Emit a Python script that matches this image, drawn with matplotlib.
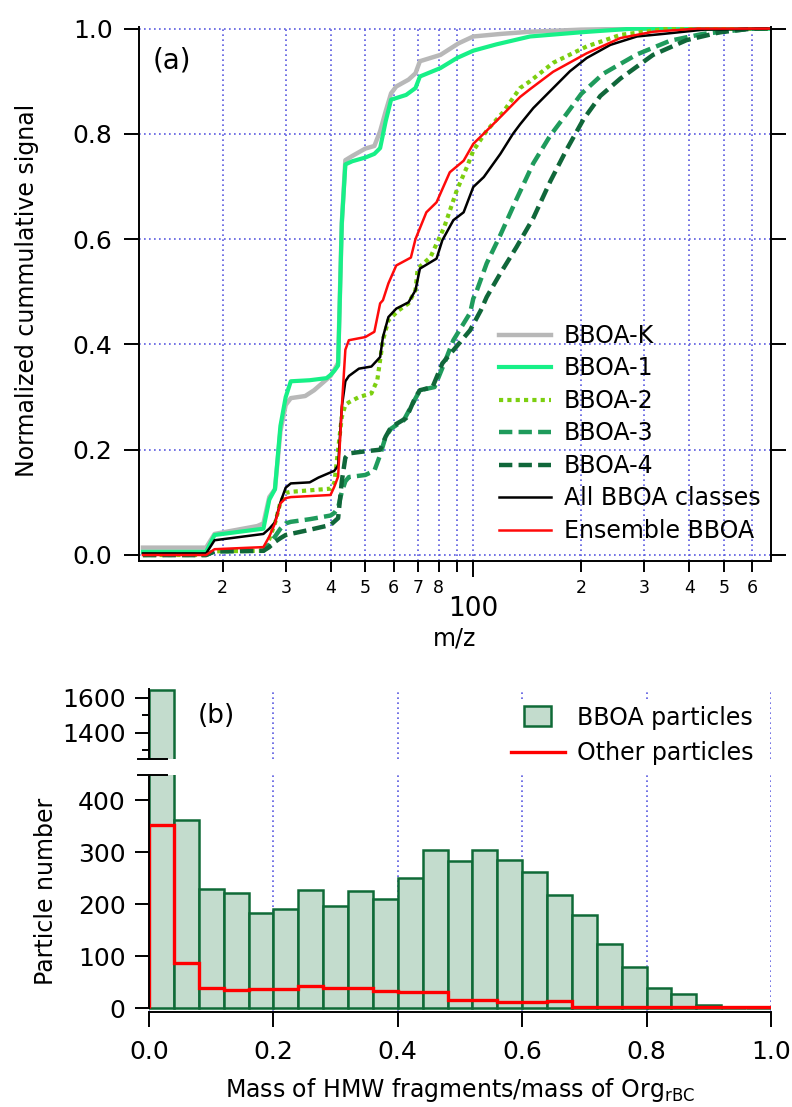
import numpy as np
import matplotlib.pyplot as plt
from matplotlib.ticker import FixedLocator, FixedFormatter, NullLocator, FormatStrFormatter
from matplotlib.patches import Patch, Rectangle
from matplotlib.lines import Line2D
from matplotlib.legend_handler import HandlerPatch

# ---- panel (a): normalized cumulative signal vs m/z ----
mz_k = [12, 18, 19, 25, 26, 27, 28, 29, 30, 31, 34, 36, 40, 41, 42, 43, 44, 46, 50, 53,
        55, 57, 59, 61, 66, 69, 71, 81, 91, 100, 120, 144, 200, 300, 680]
bboa_k = [0.014, 0.014, 0.040, 0.055, 0.060, 0.110, 0.125, 0.235, 0.285, 0.298, 0.302, 0.313,
          0.340, 0.352, 0.365, 0.630, 0.750, 0.758, 0.772, 0.777, 0.805, 0.843, 0.877, 0.890,
          0.903, 0.915, 0.938, 0.950, 0.972, 0.985, 0.990, 0.994, 0.998, 1.0, 1.0]

mz_1 = [12, 18, 19, 26, 27, 28, 29, 30, 31, 35, 39, 40, 41, 42, 43, 44, 46, 50, 53, 55,
        57, 59, 61, 65, 69, 71, 81, 90, 100, 116, 144, 200, 280, 680]
bboa_1 = [0.006, 0.006, 0.038, 0.050, 0.105, 0.125, 0.245, 0.300, 0.330, 0.332, 0.336, 0.342,
          0.350, 0.360, 0.630, 0.742, 0.748, 0.755, 0.762, 0.773, 0.824, 0.865, 0.868, 0.874,
          0.887, 0.909, 0.925, 0.944, 0.958, 0.970, 0.985, 0.993, 1.0, 1.0]

mz_2 = [12, 18, 19, 26, 27, 28, 29, 30, 31, 40, 41, 42, 43, 44, 45, 48, 52, 54, 56, 58,
        62, 66, 69, 70, 76, 79, 83, 90, 96, 100, 109, 121, 135, 144, 167, 207, 257, 350, 680]
bboa_2 = [0.0, 0.0, 0.007, 0.008, 0.030, 0.060, 0.100, 0.118, 0.120, 0.126, 0.137, 0.200,
          0.262, 0.285, 0.290, 0.300, 0.307, 0.332, 0.408, 0.446, 0.465, 0.478, 0.503, 0.544,
          0.566, 0.591, 0.623, 0.693, 0.737, 0.768, 0.806, 0.841, 0.887, 0.900, 0.935, 0.966,
          0.988, 1.0, 1.0]

mz_3 = [12, 18, 19, 26, 27, 28, 29, 30, 31, 35, 40, 41, 42, 43, 44, 45, 50, 53, 55, 57,
        59, 64, 71, 78, 83, 88, 98, 100, 102, 109, 119, 132, 147, 164, 182, 200, 230, 286,
        354, 437, 600, 680]
bboa_3 = [0.0, 0.0, 0.007, 0.008, 0.020, 0.035, 0.050, 0.060, 0.063, 0.068, 0.075, 0.080,
          0.090, 0.120, 0.140, 0.148, 0.152, 0.160, 0.190, 0.225, 0.240, 0.256, 0.313, 0.319,
          0.364, 0.408, 0.460, 0.487, 0.500, 0.554, 0.608, 0.676, 0.744, 0.797, 0.838, 0.876,
          0.914, 0.951, 0.977, 0.990, 1.0, 1.0]

mz_4 = [12, 18, 19, 26, 27, 28, 29, 30, 34, 40, 42, 43, 44, 45, 50, 55, 57, 59, 65, 69,
        71, 77, 82, 88, 98, 105, 109, 119, 132, 147, 164, 182, 203, 226, 257, 317, 393, 487,
        600, 680]
bboa_4 = [0.0, 0.0, 0.007, 0.008, 0.015, 0.025, 0.032, 0.038, 0.046, 0.057, 0.070, 0.140,
          0.185, 0.193, 0.197, 0.200, 0.225, 0.243, 0.260, 0.300, 0.313, 0.319, 0.364, 0.389,
          0.427, 0.465, 0.490, 0.535, 0.585, 0.640, 0.710, 0.770, 0.828, 0.872, 0.905, 0.950,
          0.978, 0.993, 1.0, 1.0]

mz_all = [12, 18, 19, 26, 27, 28, 29, 30, 31, 35, 37, 41, 42, 43, 44, 45, 48, 52, 55, 56,
          58, 61, 66, 69, 71, 79, 82, 88, 94, 100, 107, 119, 129, 135, 147, 167, 186, 207,
          241, 286, 340, 440, 680]
all_bboa = [0.003, 0.003, 0.028, 0.040, 0.050, 0.062, 0.100, 0.128, 0.136, 0.138, 0.147,
            0.160, 0.170, 0.281, 0.330, 0.340, 0.354, 0.358, 0.376, 0.414, 0.452, 0.468,
            0.480, 0.503, 0.544, 0.563, 0.598, 0.636, 0.651, 0.699, 0.718, 0.762, 0.800,
            0.818, 0.849, 0.887, 0.919, 0.944, 0.969, 0.985, 0.990, 0.998, 1.0]

mz_ens = [12, 18, 19, 26, 27, 28, 29, 30, 31, 40, 41, 42, 43, 44, 45, 50, 53, 55, 56, 58,
          61, 67, 69, 74, 79, 86, 94, 100, 109, 121, 135, 144, 167, 207, 257, 317, 420, 680]
ensemble = [0.0, 0.0, 0.011, 0.015, 0.035, 0.060, 0.098, 0.108, 0.110, 0.114, 0.130, 0.149,
            0.280, 0.390, 0.408, 0.414, 0.424, 0.478, 0.484, 0.516, 0.550, 0.565, 0.600,
            0.651, 0.670, 0.727, 0.749, 0.781, 0.806, 0.837, 0.870, 0.885, 0.918, 0.953,
            0.982, 0.994, 1.0, 1.0]

minor_mz = [20, 30, 40, 50, 60, 70, 80, 90, 200, 300, 400, 500, 600]
minor_labels = ['2', '3', '4', '5', '6', '7', '8', '', '2', '3', '4', '5', '6']

# ---- panel (b): histogram of HMW fraction ----
bin_edges = np.linspace(0.0, 1.0, 26)
bboa_particles = [1648, 363, 229, 222, 184, 190, 227, 197, 225, 210, 250, 304, 284, 304,
                  286, 263, 218, 180, 124, 79, 38, 27, 6, 0, 0]
other_particles = [353, 87, 38, 34, 37, 37, 43, 39, 38, 32, 30, 30, 15, 15, 12, 12, 13,
                   2, 2, 2, 2, 2, 2, 2, 2]

W, H = 792, 1107
fig = plt.figure(figsize=(W / 100, H / 100), dpi=100)


def px_axes(left, top, right, bottom):
    return fig.add_axes([left / W, 1 - bottom / H, (right - left) / W, (bottom - top) / H])


grid_kw = dict(color='#5a5ae0', linestyle=(0, (1, 2)), linewidth=1.2)
spine_w = 1.4

# panel (a)
ax = px_axes(139, 27, 771, 561)
ax.plot(mz_k, bboa_k, color='#b8b8b8', lw=3.2, label='BBOA-K')
ax.plot(mz_1, bboa_1, color='#17f087', lw=3.0, label='BBOA-1')
ax.plot(mz_2, bboa_2, color='#7ccf10', lw=3.0, ls=(0, (1, 1)), label='BBOA-2')
ax.plot(mz_3, bboa_3, color='#1f9b5c', lw=3.2, ls=(0, (3, 1.4)), label='BBOA-3')
ax.plot(mz_4, bboa_4, color='#10673a', lw=3.2, ls=(0, (3, 1.4)), label='BBOA-4')
ax.plot(mz_all, all_bboa, color='black', lw=1.8, label='All BBOA classes')
ax.plot(mz_ens, ensemble, color='#ff0a0a', lw=1.8, label='Ensemble BBOA')

ax.set_xscale('log')
ax.set_xlim(11.7, 676)
ax.set_ylim(-0.0114, 1.003)
ax.xaxis.set_major_locator(FixedLocator([100]))
ax.xaxis.set_major_formatter(FixedFormatter(['100']))
ax.xaxis.set_minor_locator(FixedLocator(minor_mz))
ax.xaxis.set_minor_formatter(FixedFormatter(minor_labels))
ax.tick_params(axis='x', which='major', direction='out', length=11.5, width=spine_w,
               pad=14, labelsize=19)
ax.tick_params(axis='x', which='minor', direction='out', length=8, width=spine_w,
               pad=5, labelsize=12.5)
ax.set_yticks(np.arange(0, 1.01, 0.2))
ax.yaxis.set_major_formatter(FormatStrFormatter('%.1f'))
ax.yaxis.set_minor_locator(NullLocator())
ax.tick_params(axis='y', direction='out', length=11, width=spine_w, pad=8, labelsize=18,
               right=True, labelright=False)
ax.grid(True, which='both', axis='x', **grid_kw)
ax.grid(True, which='major', axis='y', **grid_kw)
ax.spines['top'].set_visible(False)
for s in ['left', 'right', 'bottom']:
    ax.spines[s].set_linewidth(spine_w)
ax.set_xlabel('m/z', fontsize=17)
ax.xaxis.set_label_coords(0.5, -0.123)
ax.set_ylabel('Normalized cummulative signal', fontsize=17)
ax.yaxis.set_label_coords(-0.158, 0.507)
ax.legend(loc='lower right', bbox_to_anchor=(0.983, 0.034), frameon=False, fontsize=17,
          handlelength=2.2, handletextpad=0.55, labelspacing=0.36, borderaxespad=0,
          borderpad=0)
fig.text(153 / W, 1 - 60 / H, '(a)', fontsize=20, va='center')

# panel (b): broken y axis, upper part for the first bin
bar_face = '#c3dccd'
bar_edge = '#0f6a37'
ax_hi = px_axes(149, 689, 771, 759)
ax_lo = px_axes(149, 775, 771, 1012)

for a in (ax_hi, ax_lo):
    a.bar(bin_edges[:-1], bboa_particles, width=0.04, align='edge', color=bar_face,
          edgecolor=bar_edge, linewidth=1.8)
    a.stairs(other_particles, bin_edges, color='#ff0000', lw=2.4)
    a.set_xlim(0, 1.0)
    a.set_xticks(np.arange(0, 1.01, 0.2))
    a.set_axisbelow(True)
    a.grid(True, axis='x', **grid_kw)
    a.spines['top'].set_visible(False)
    a.spines['right'].set_visible(False)
    a.spines['left'].set_linewidth(spine_w)
    a.spines['bottom'].set_linewidth(spine_w)

ax_hi.set_ylim(1247, 1652)
ax_hi.set_yticks([1400, 1600])
ax_hi.yaxis.set_minor_locator(FixedLocator([1300, 1500]))
ax_hi.spines['bottom'].set_visible(False)
ax_hi.tick_params(axis='x', bottom=False, labelbottom=False)
ax_hi.tick_params(axis='y', which='major', direction='out', length=10, width=spine_w,
                  pad=7, labelsize=18)
ax_hi.tick_params(axis='y', which='minor', direction='out', length=5, width=spine_w)

ax_lo.set_ylim(-7.7, 449)
ax_lo.set_yticks([0, 100, 200, 300, 400])
ax_lo.spines['left'].set_bounds(0, 449)
ax_lo.xaxis.set_major_formatter(FormatStrFormatter('%.1f'))
ax_lo.tick_params(axis='y', direction='out', length=10, width=spine_w, pad=7, labelsize=18)
ax_lo.tick_params(axis='x', direction='out', length=10.5, width=spine_w, pad=10,
                  labelsize=18)
ax_lo.set_xlabel(r'Mass of HMW fragments/mass of Org$_{\mathrm{rBC}}$', fontsize=17)
ax_lo.xaxis.set_label_coords(0.5, -0.27)
ax_lo.set_ylabel('Particle number', fontsize=17)
ax_lo.yaxis.set_label_coords(-0.146, 0.51)

# break marks on the left axis
ax_hi.plot([-0.0177, 0.029], [0, 0], transform=ax_hi.transAxes, color='black',
           lw=spine_w, clip_on=False)
ax_lo.plot([-0.0177, 0.029], [1, 1], transform=ax_lo.transAxes, color='black',
           lw=spine_w, clip_on=False)


def narrow_patch(legend, orig_handle, xdescent, ydescent, width, height, fontsize):
    return Rectangle((-xdescent + 0.25 * width, -ydescent - 0.1 * height),
                     0.5 * width, 1.2 * height)


handles = [Patch(facecolor=bar_face, edgecolor=bar_edge, linewidth=1.8),
           Line2D([], [], color='#ff0000', lw=2.4)]
fig.legend(handles, ['BBOA particles', 'Other particles'], loc='upper left',
           bbox_to_anchor=(494 / W, 1 - 689 / H), fontsize=17, frameon=True,
           facecolor='white', edgecolor='none', framealpha=1, fancybox=False,
           handlelength=2.3, handletextpad=0.5, labelspacing=0.5, borderpad=0.2,
           handler_map={Patch: HandlerPatch(patch_func=narrow_patch)})
fig.text(198 / W, 1 - 716 / H, '(b)', fontsize=19, va='center')

fig.savefig('out.png', dpi=100)
